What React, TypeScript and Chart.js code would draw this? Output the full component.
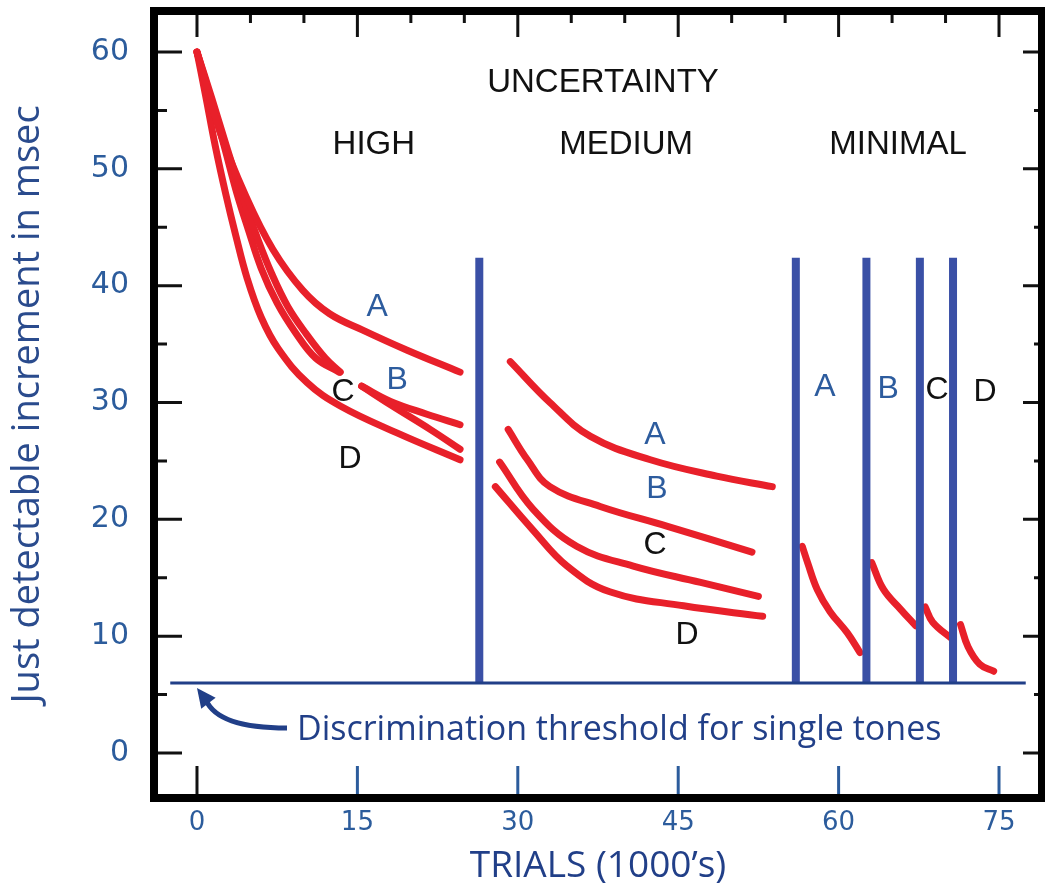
import React, { useEffect, useRef } from "react";
import { Chart, registerables } from "chart.js";

Chart.register(...registerables);

type Pt = [number, number];

// ---- axis ticks ----
const xTickValues = [0, 15, 30, 45, 60, 75];
const yTickValues = [0, 10, 20, 30, 40, 50, 60];

// ---- HIGH uncertainty curves ----
const highA: Pt[] = [[0, 60], [2.1, 53.3], [4.6, 47.6], [7.1, 43.1], [9.9, 39.6], [12.4, 37.6], [15.5, 36.2], [19.6, 34.5], [24.6, 32.6]];
const highBEarly: Pt[] = [[0, 60], [1.4, 56.0], [2.8, 51.8], [4.2, 47.8], [5.6, 44.2], [7.0, 41.0], [8.5, 38.2], [10.2, 35.9], [12.0, 33.8], [13.4, 32.6]];
const highBLate: Pt[] = [[15.4, 31.4], [18.1, 30.1], [21.5, 29.0], [24.6, 28.1]];
const highCEarly: Pt[] = [[0, 60], [1.2, 56.3], [2.5, 52.1], [3.7, 48.0], [4.8, 44.8], [6.0, 41.5], [7.5, 38.5], [9.2, 36.0], [11.1, 33.8], [13.3, 32.6]];
const highCLate: Pt[] = [[15.4, 31.4], [18.1, 29.8], [21.8, 27.7], [24.6, 26.0]];
const highD: Pt[] = [[0, 60], [0.8, 56.3], [1.7, 52.0], [2.7, 47.8], [3.6, 44.4], [4.7, 40.6], [6.0, 37.3], [7.6, 34.6], [10.3, 31.7], [13.4, 29.7], [18.7, 27.4], [24.6, 25.1]];

// ---- MEDIUM uncertainty curves ----
const mediumA: Pt[] = [[29.3, 33.5], [33.0, 30.0], [36.8, 27.1], [42.4, 25.1], [48.6, 23.7], [53.8, 22.8]];
const mediumB: Pt[] = [[29.1, 27.7], [30.9, 25.1], [33.0, 22.8], [37.7, 21.1], [44.0, 19.4], [51.9, 17.2]];
const mediumC: Pt[] = [[28.3, 24.9], [31.4, 20.9], [35.5, 17.7], [40.8, 16.0], [47.1, 14.6], [52.5, 13.4]];
const mediumD: Pt[] = [[27.9, 22.8], [31.4, 19.1], [34.6, 16.0], [38.6, 13.8], [45.5, 12.6], [52.9, 11.7]];

// ---- MINIMAL uncertainty curves ----
const minimalA: Pt[] = [[56.6, 17.7], [57.1, 16.3], [58.0, 14.0], [59.2, 12.1], [60.8, 10.3], [62.0, 8.6]];
const minimalB: Pt[] = [[63.1, 16.3], [64.2, 14.0], [65.8, 12.3], [67.2, 10.9]];
const minimalC: Pt[] = [[68.1, 12.5], [68.8, 11.2], [70.7, 9.7]];
const minimalD: Pt[] = [[71.4, 11.0], [72.1, 9.1], [73.2, 7.6], [74.5, 7.0]];

// ---- separators & threshold ----
const separatorX = [26.4, 56.0, 62.6, 67.6, 70.7];
const separatorTop = 42.4;
const thresholdValue = 6;
const thresholdSpan = [-2.5, 77.5];

// ---- text ----
const yTitle = "Just detectable increment in msec";
const xTitle = "TRIALS (1000\u2019s)";
const thresholdText = "Discrimination threshold for single tones";

const RED = "#e8202a";
const BAR_BLUE = "#3a50a6";
const NAVY = "#213f88";
const TICK_BLUE = "#2c5c9c";
const LETTER_BLUE = "#2d5c9e";
const BLACK = "#111111";

const X_MIN = -4.02;
const X_MAX = 79.02;
const Y_MIN = -3.85;
const Y_MAX = 63.51;

// annotation anchors in data units
const annotations: { t: string; x: number; y: number; c: string; s: number }[] = [
  { t: "UNCERTAINTY", x: 37.97, y: 57.6, c: BLACK, s: 33 },
  { t: "HIGH", x: 16.54, y: 52.3, c: BLACK, s: 33 },
  { t: "MEDIUM", x: 40.13, y: 52.3, c: BLACK, s: 33 },
  { t: "MINIMAL", x: 65.56, y: 52.3, c: BLACK, s: 33 },
  { t: "A", x: 16.84, y: 38.38, c: LETTER_BLUE, s: 32 },
  { t: "B", x: 18.71, y: 32.14, c: LETTER_BLUE, s: 32 },
  { t: "C", x: 13.66, y: 31.11, c: BLACK, s: 32 },
  { t: "D", x: 14.31, y: 25.38, c: BLACK, s: 32 },
  { t: "A", x: 42.83, y: 27.44, c: LETTER_BLUE, s: 32 },
  { t: "B", x: 43.02, y: 22.82, c: LETTER_BLUE, s: 32 },
  { t: "C", x: 42.83, y: 18.03, c: BLACK, s: 32 },
  { t: "D", x: 45.82, y: 10.34, c: BLACK, s: 32 },
  { t: "A", x: 58.73, y: 31.54, c: LETTER_BLUE, s: 32 },
  { t: "B", x: 64.63, y: 31.37, c: LETTER_BLUE, s: 32 },
  { t: "C", x: 69.21, y: 31.28, c: BLACK, s: 32 },
  { t: "D", x: 73.69, y: 31.11, c: BLACK, s: 32 },
];

const arrowTail: Pt = [8.42, 2.14];
const arrowCtrl: Pt = [1.96, 2.14];
const arrowEnd: Pt = [0.84, 4.54];
const arrowTip: Pt = [0.0, 5.56];
const thresholdTextAnchor: Pt = [9.35, 1.11];

const framePlugin = {
  id: "framePlugin",
  afterDatasetsDraw(chart: any) {
    const { ctx, scales } = chart;
    const xs = scales.x;
    const ys = scales.y;
    const px = (v: number) => xs.getPixelForValue(v);
    const py = (v: number) => ys.getPixelForValue(v);
    ctx.save();
    ctx.textAlign = "center";
    ctx.textBaseline = "alphabetic";
    for (const a of annotations) {
      ctx.font = `${a.s}px "Liberation Sans", Arial, sans-serif`;
      ctx.fillStyle = a.c;
      ctx.fillText(a.t, px(a.x), py(a.y) + a.s * 0.358);
    }
    ctx.textAlign = "left";
    ctx.font = `34px "Open Sans", sans-serif`;
    ctx.fillStyle = NAVY;
    ctx.fillText(thresholdText, px(thresholdTextAnchor[0]), py(thresholdTextAnchor[1]));
    ctx.strokeStyle = NAVY;
    ctx.fillStyle = NAVY;
    ctx.lineWidth = 5;
    ctx.lineCap = "butt";
    ctx.beginPath();
    ctx.moveTo(px(arrowTail[0]), py(arrowTail[1]));
    ctx.quadraticCurveTo(px(arrowCtrl[0]), py(arrowCtrl[1]), px(arrowEnd[0]), py(arrowEnd[1]));
    ctx.stroke();
    const tx = px(arrowTip[0]);
    const ty = py(arrowTip[1]);
    const ex = px(arrowEnd[0]);
    const ey = py(arrowEnd[1]);
    const len = Math.hypot(tx - ex, ty - ey) || 1;
    const dx = (tx - ex) / len;
    const dy = (ty - ey) / len;
    const hl = 19;
    const hw = 9;
    const bx = tx - dx * hl;
    const by = ty - dy * hl;
    ctx.beginPath();
    ctx.moveTo(tx, ty);
    ctx.lineTo(bx - dy * hw, by + dx * hw);
    ctx.lineTo(bx + dy * hw, by - dx * hw);
    ctx.closePath();
    ctx.fill();
    ctx.restore();
  },
  afterDraw(chart: any) {
    const { ctx, chartArea: a, scales } = chart;
    const xs = scales.x;
    const ys = scales.y;
    ctx.save();
    ctx.lineCap = "butt";
    ctx.strokeStyle = BLACK;
    ctx.lineWidth = 3;
    ctx.beginPath();
    for (let v = 0; v <= 60; v += 5) {
      const p = ys.getPixelForValue(v);
      const long = v % 10 === 0;
      ctx.moveTo(a.left, p);
      ctx.lineTo(a.left + (long ? 28 : 13), p);
      ctx.moveTo(a.right, p);
      ctx.lineTo(a.right - (long ? 19 : 8), p);
    }
    for (let v = 0; v <= 75; v += 5) {
      const p = xs.getPixelForValue(v);
      const long = v % 15 === 0;
      ctx.moveTo(p, a.top);
      ctx.lineTo(p, a.top + (long ? 26 : 12));
    }
    ctx.stroke();
    for (const v of xTickValues) {
      const p = xs.getPixelForValue(v);
      ctx.strokeStyle = v === 0 ? BLACK : TICK_BLUE;
      ctx.beginPath();
      ctx.moveTo(p, a.bottom);
      ctx.lineTo(p, a.bottom - 32);
      ctx.stroke();
    }
    ctx.strokeStyle = "#000";
    ctx.lineWidth = 8;
    ctx.strokeRect(a.left, a.top, a.right - a.left, a.bottom - a.top);
    ctx.restore();
  },
};

export default function App() {
  const ref = useRef<HTMLCanvasElement>(null);
  useEffect(() => {
    const canvas = ref.current;
    if (!canvas) return;
    const toXY = (arr: Pt[]) => arr.map(([x, y]) => ({ x, y }));
    const datasets: any[] = [];
    datasets.push({
      data: toXY(thresholdSpan.map((x) => [x, thresholdValue] as Pt)),
      borderColor: NAVY,
      borderWidth: 3,
      pointRadius: 0,
    });
    for (const sx of separatorX) {
      datasets.push({
        data: toXY([[sx, thresholdValue], [sx, separatorTop]]),
        borderColor: BAR_BLUE,
        borderWidth: 8,
        pointRadius: 0,
      });
    }
    const curves = [
      highA, highBEarly, highBLate, highCEarly, highCLate, highD,
      mediumA, mediumB, mediumC, mediumD,
      minimalA, minimalB, minimalC, minimalD,
    ];
    for (const c of curves) {
      datasets.push({
        data: toXY(c),
        borderColor: RED,
        borderWidth: 7,
        pointRadius: 0,
        tension: 0.4,
        borderCapStyle: "round",
        borderJoinStyle: "round",
      });
    }
    const zeroPad = (s: any) => {
      s.paddingTop = 0;
      s.paddingBottom = 0;
      s.paddingLeft = 0;
      s.paddingRight = 0;
    };
    const chart = new Chart(canvas, {
      type: "line",
      data: { datasets },
      options: {
        animation: false,
        responsive: false,
        devicePixelRatio: 1,
        layout: { padding: { top: 11, right: 3, left: 0, bottom: 0 } },
        plugins: { legend: { display: false }, tooltip: { enabled: false } },
        scales: {
          x: {
            type: "linear",
            bounds: "data",
            min: X_MIN,
            max: X_MAX,
            afterBuildTicks: (s: any) => {
              s.ticks = xTickValues.map((v) => ({ value: v }));
            },
            afterFit: (s: any) => {
              s.height = 95;
              zeroPad(s);
            },
            grid: { display: false, drawTicks: false, tickLength: 0 },
            border: { display: false },
            ticks: {
              color: TICK_BLUE,
              font: { family: '"DejaVu Sans", sans-serif', size: 26 },
              padding: 10,
              maxRotation: 0,
              autoSkip: false,
              callback: (v: any) => String(v),
            },
            title: {
              display: true,
              text: xTitle,
              color: NAVY,
              font: { family: '"Open Sans", sans-serif', size: 37 },
              padding: { top: 0, bottom: 4 },
            },
          },
          y: {
            type: "linear",
            bounds: "data",
            min: Y_MIN,
            max: Y_MAX,
            afterBuildTicks: (s: any) => {
              s.ticks = yTickValues.map((v) => ({ value: v }));
            },
            afterFit: (s: any) => {
              s.width = 154;
              zeroPad(s);
            },
            grid: { display: false, drawTicks: false, tickLength: 0 },
            border: { display: false },
            ticks: {
              color: TICK_BLUE,
              font: { family: '"DejaVu Sans", sans-serif', size: 30 },
              padding: 25,
              autoSkip: false,
              callback: (v: any) => String(v),
            },
            title: {
              display: true,
              text: yTitle,
              color: "#2a4b8d",
              font: { family: '"Open Sans", sans-serif', size: 38 },
              padding: { top: 5, bottom: 0 },
            },
          },
        },
      },
      plugins: [framePlugin],
    } as any);
    return () => chart.destroy();
  }, []);
  return (
    <div style={{ position: "absolute", left: 0, top: 0, width: 1045, height: 893, background: "#ffffff" }}>
      <canvas ref={ref} width={1045} height={893} style={{ display: "block", width: 1045, height: 893 }} />
    </div>
  );
}
